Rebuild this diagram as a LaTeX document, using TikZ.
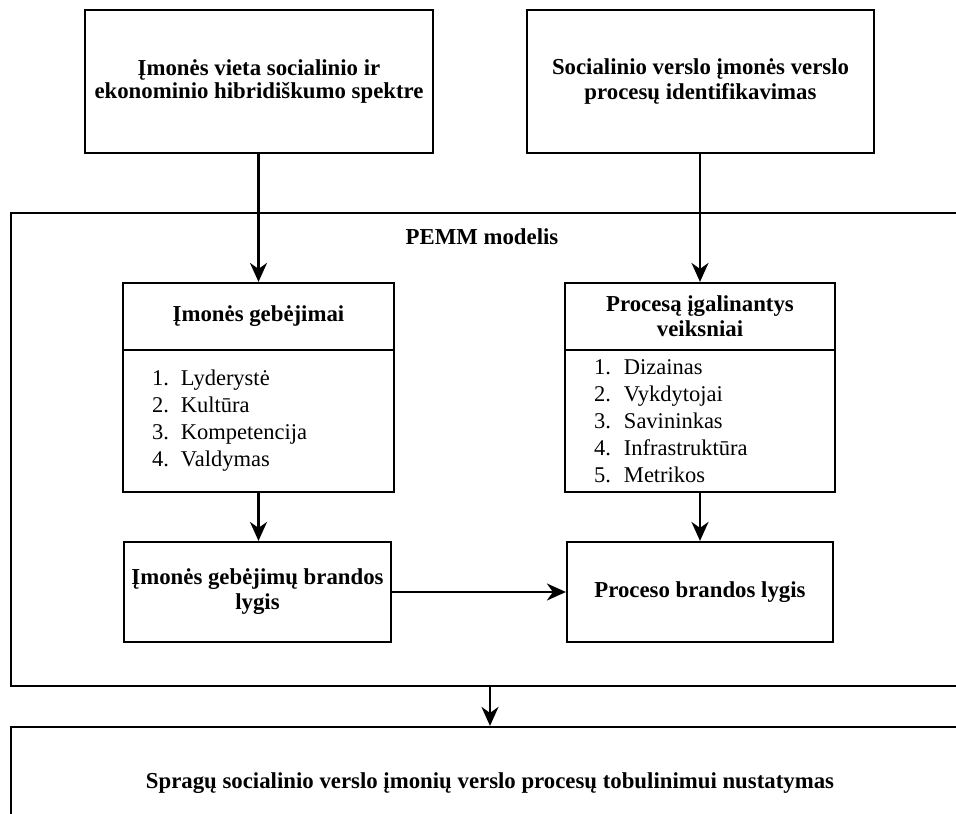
\documentclass[tikz,border=0pt]{standalone}
\usepackage{fontspec}
\setmainfont{Liberation Serif}
\usetikzlibrary{arrows.meta,positioning}

\begin{document}
\begin{tikzpicture}[x=1pt, y=-1pt,
  box/.style={draw, line width=2.2pt, align=center, inner sep=0pt,
              font=\fontsize{22.8}{25}\selectfont\bfseries},
  listbox/.style={draw, line width=2.2pt, align=left, inner ysep=0pt,
                  inner xsep=29pt, font=\fontsize{22.5}{27}\selectfont},
  frame/.style={draw, line width=2.2pt, inner sep=0pt},
  arrow/.style={-{Stealth[length=19pt, width=17pt, inset=6pt]}, line width=2.2pt},
]
\useasboundingbox (0,0) rectangle (956,814);
\clip (0,0) rectangle (956,814);

% inputs
\node[box, minimum width=348pt, minimum height=143pt] (place) at (259,81.5)
  {\raisebox{-8pt}{\begin{tabular}{@{}c@{}}Įmonės vieta socialinio ir\\[-2pt]ekonominio hibridiškumo spektre\end{tabular}}};
\node[box, minimum width=347pt, minimum height=143pt] (ident) at (700.5,81.5)
  {Socialinio verslo įmonės verslo\\procesų identifikavimas};

% PEMM model
\node[frame, minimum width=958pt, minimum height=473pt] (pemm) at (490,449.5) {};
\node[font=\fontsize{22.8}{25}\selectfont\bfseries] (pemmlabel) at (482,237) {PEMM modelis};

\node[box, minimum width=271pt, minimum height=67pt] (capHead) at (258.5,316.5)
  {Įmonės gebėjimai};
\node[listbox, text width=213pt, minimum height=142pt] (capList) at (258.5,421)
  {\makebox[29pt][l]{1.}Lyderystė\\
   \makebox[29pt][l]{2.}Kultūra\\
   \makebox[29pt][l]{3.}Kompetencija\\
   \makebox[29pt][l]{4.}Valdymas};

\node[box, minimum width=270pt, minimum height=67pt] (enHead) at (700,316.5)
  {Procesą įgalinantys\\veiksniai};
\node[listbox, text width=212pt, minimum height=142pt] (enList) at (700,421)
  {\makebox[30pt][l]{1.}Dizainas\\
   \makebox[30pt][l]{2.}Vykdytojai\\
   \makebox[30pt][l]{3.}Savininkas\\
   \makebox[30pt][l]{4.}Infrastruktūra\\
   \makebox[30pt][l]{5.}Metrikos};

\node[box, minimum width=267pt, minimum height=100pt] (capMat) at (257.5,592)
  {Įmonės gebėjimų brandos\\lygis};
\node[box, minimum width=266pt, minimum height=100pt] (procMat) at (700,592)
  {Proceso brandos lygis};

% result
\node[box, minimum width=958pt, minimum height=113pt] (gaps) at (490,783.5)
  {Spragų socialinio verslo įmonių verslo procesų tobulinimui nustatymas};

\draw[arrow] (capHead.north |- place.south) -- (capHead.north);
\draw[arrow] (enHead.north |- ident.south) -- (enHead.north);
\draw[arrow] (capList.south) -- (capList.south |- capMat.north);
\draw[arrow] (enList.south) -- (enList.south |- procMat.north);
\draw[arrow] (capMat.east) -- (procMat.west);
\draw[arrow] (pemm.south) -- (gaps.north);
\end{tikzpicture}
\end{document}
